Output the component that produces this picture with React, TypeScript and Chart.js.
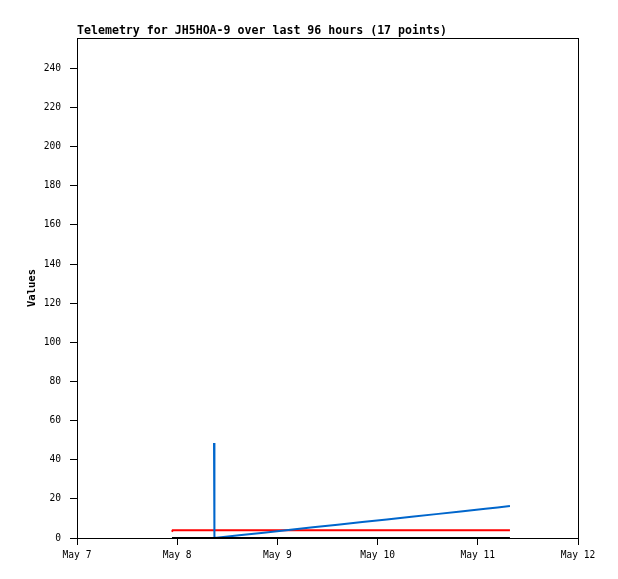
import React, { useEffect, useRef } from "react";
import { Chart, registerables } from "chart.js";

Chart.register(...registerables);

const titleText = "Telemetry for JH5HOA-9 over last 96 hours (17 points)";
const yAxisLabel = "Values";
const monthNames = ["Jan", "Feb", "Mar", "Apr", "May", "Jun", "Jul", "Aug", "Sep", "Oct", "Nov", "Dec"];

const xMinTime = "2024-05-07T00:00:00Z";
const xMaxTime = "2024-05-12T00:00:00Z";
const yMax = 255.5;
const yStep = 20;

const times = [
  "2024-05-07T22:45:00Z",
  "2024-05-07T22:55:00Z",
  "2024-05-08T08:49:00Z",
  "2024-05-08T08:55:00Z",
  "2024-05-08T14:49:00Z",
  "2024-05-08T20:43:00Z",
  "2024-05-09T02:37:00Z",
  "2024-05-09T08:31:00Z",
  "2024-05-09T14:25:00Z",
  "2024-05-09T20:19:00Z",
  "2024-05-10T02:13:00Z",
  "2024-05-10T08:07:00Z",
  "2024-05-10T14:01:00Z",
  "2024-05-10T19:55:00Z",
  "2024-05-11T01:49:00Z",
  "2024-05-11T04:45:00Z",
  "2024-05-11T07:42:00Z",
];

const blueValues: (number | null)[] = [null, null, 48.5, 0, 1.4, 2.7, 4.1, 5.5, 6.8, 8.2, 9.5, 10.9, 12.2, 13.6, 14.9, 15.6, 16.3];
const redValues: (number | null)[] = [3.2, 3.9, 3.9, 3.9, 3.9, 3.9, 3.9, 3.9, 3.9, 3.9, 3.9, 3.9, 3.9, 3.9, 3.9, 3.9, 3.9];
const blackValues: (number | null)[] = [0, 0, 0, 0, 0, 0, 0, 0, 0, 0, 0, 0, 0, 0, 0, 0, 0];

const toPoints = (vals: (number | null)[]) =>
  times.map((t, i) => ({ x: Date.parse(t), y: vals[i] }));

const framePlugin = {
  id: "frame",
  afterDraw(chart: any) {
    const { ctx, chartArea } = chart;
    ctx.save();
    ctx.strokeStyle = "#000";
    ctx.lineWidth = 1;
    ctx.strokeRect(
      Math.round(chartArea.left) + 0.5,
      Math.round(chartArea.top) + 0.5,
      Math.round(chartArea.right - chartArea.left),
      Math.round(chartArea.bottom - chartArea.top)
    );
    ctx.restore();
  },
};

export default function App() {
  const ref = useRef<HTMLCanvasElement | null>(null);
  useEffect(() => {
    if (!ref.current) return;
    const mono = "'DejaVu Sans Mono', 'Liberation Mono', monospace";
    const chart = new Chart(ref.current, {
      type: "line",
      data: {
        datasets: [
          { label: "black", data: toPoints(blackValues), borderColor: "#000000", borderWidth: 2 },
          { label: "blue", data: toPoints(blueValues), borderColor: "#0066cc", borderWidth: 2 },
          { label: "red", data: toPoints(redValues), borderColor: "#ff0000", borderWidth: 2 },
        ],
      },
      options: {
        responsive: false,
        animation: false,
        events: [],
        elements: { point: { radius: 0 }, line: { tension: 0 } },
        layout: { padding: { left: 0, right: 40, top: 0, bottom: 0 } },
        plugins: {
          legend: { display: false },
          tooltip: { enabled: false },
          title: {
            display: true,
            text: titleText,
            align: "start",
            fullSize: false,
            color: "#000",
            font: { family: mono, size: 11.6, weight: "bold", lineHeight: "14px" },
            padding: { top: 24, bottom: 0 },
          },
        },
        scales: {
          x: {
            type: "linear",
            min: Date.parse(xMinTime),
            max: Date.parse(xMaxTime),
            afterFit: (s: any) => { s.height = 41; },
            ticks: {
              stepSize: 86400000,
              color: "#000",
              font: { family: mono, size: 9.6 },
              padding: 5,
              maxRotation: 0,
              callback: (v: any) => {
                const d = new Date(Number(v));
                return monthNames[d.getUTCMonth()] + " " + d.getUTCDate();
              },
            },
            grid: { display: true, drawOnChartArea: false, drawTicks: true, tickLength: 7, color: "#000" },
            border: { display: true, color: "#000", width: 1 },
          },
          y: {
            min: 0,
            max: yMax,
            afterFit: (s: any) => { s.width = 77; },
            afterBuildTicks: (s: any) => {
              s.ticks = s.ticks.filter((t: any) => Math.abs(t.value % yStep) < 1e-6);
            },
            ticks: { stepSize: yStep, color: "#000", font: { family: mono, size: 9.6 }, padding: 9 },
            grid: { display: true, drawOnChartArea: false, drawTicks: true, tickLength: 7, color: "#000" },
            border: { display: true, color: "#000", width: 1 },
            title: {
              display: true,
              text: yAxisLabel,
              color: "#000",
              font: { family: mono, size: 10.5, weight: "bold", lineHeight: "12px" },
              padding: { top: 26, bottom: 0 },
            },
          },
        },
      },
      plugins: [framePlugin],
    });
    return () => chart.destroy();
  }, []);
  return (
    <div style={{ position: "fixed", left: 0, top: 0, width: 618, height: 579, background: "#fff" }}>
      <canvas ref={ref} width={618} height={579} style={{ display: "block", width: 618, height: 579 }} />
    </div>
  );
}
